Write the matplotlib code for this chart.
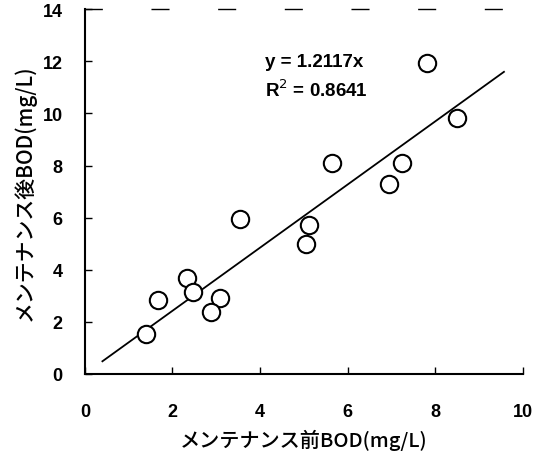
import matplotlib
matplotlib.use("Agg")
import matplotlib.pyplot as plt
import numpy as np

x_before = [5.65, 7.25, 6.95, 3.55, 5.11, 5.04, 8.49, 7.82, 2.34, 1.66, 2.47, 3.08, 2.88, 1.39]
y_after = [8.08, 8.08, 7.29, 5.95, 5.72, 4.99, 9.82, 11.93, 3.68, 2.84, 3.13, 2.92, 2.39, 1.53]
slope = 1.2117
fit_range = [0.4, 9.57]
xticks = [0, 2, 4, 6, 8, 10]
yticks = [0, 2, 4, 6, 8, 10, 12, 14]

jp = ['Noto Sans CJK JP', 'DejaVu Sans']
num = ['Liberation Sans', 'DejaVu Sans']

fig = plt.figure(figsize=(5.34, 4.64), dpi=100)
ax = fig.add_axes([0.159, 0.192, 0.82, 0.786])

ax.plot(x_before, y_after, 'o', markersize=12.5, markerfacecolor='white',
        markeredgecolor='black', markeredgewidth=1.5, linestyle='none', zorder=3)
fx = np.array(fit_range)
ax.plot(fx, slope * fx, color='black', linewidth=1.3, zorder=2)

ax.set_xlim(0, 10)
ax.set_ylim(0, 14)
ax.set_xticks(xticks)
ax.set_yticks(yticks)
ax.tick_params(direction='in', length=5, width=1)
ax.tick_params(axis='x', pad=21)
ax.tick_params(axis='y', pad=16)
for lab in ax.get_xticklabels() + ax.get_yticklabels():
    lab.set_family(num)
    lab.set_fontsize(13)
    lab.set_fontweight('bold')

ax.spines['right'].set_visible(False)
ax.spines['top'].set_visible(True)
ax.spines['top'].set_linestyle((0, (12, 36)))
ax.spines['top'].set_linewidth(1.0)
ax.spines['left'].set_linewidth(1.5)
ax.spines['bottom'].set_linewidth(1.5)

ax.set_xlabel('メンテナンス前BOD(mg/L)', family=jp, fontsize=14.5, fontweight='medium', labelpad=6)
ax.set_ylabel('メンテナンス後BOD(mg/L)', family=jp, fontsize=15, fontweight='medium', labelpad=5)

ax.text(4.11, 12.0, 'y = 1.2117x', family=num, fontsize=13.5, fontweight='bold', va='center')
ax.text(4.11, 10.93, 'R$^2$ = 0.8641', family=num, fontsize=13.5, fontweight='bold', va='center')

fig.savefig('out.png', dpi=100)
